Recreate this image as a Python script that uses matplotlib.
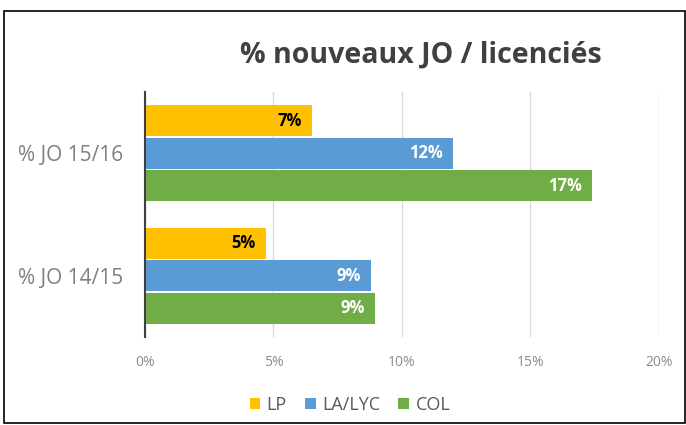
import numpy as np
import matplotlib.pyplot as plt
from matplotlib.patches import Rectangle

# data
categories = ["% JO 14/15", "% JO 15/16"]
series = ["LP", "LA/LYC", "COL"]
lp = [4.7, 6.5]
la_lyc = [8.8, 12.0]
col = [8.95, 17.4]
ticks = [0, 5, 10, 15, 20]

colors = {"LP": "#FFC000", "LA/LYC": "#5B9BD5", "COL": "#70AD47"}
label_colors = {"LP": "black", "LA/LYC": "white", "COL": "white"}
plt.rcParams["font.family"] = ["Open Sans", "DejaVu Sans"]

fig = plt.figure(figsize=(6.86, 4.25), dpi=100)
ax = fig.add_axes([0.2114, 0.207, 0.749, 0.5765])

y = np.arange(len(categories))
h = 0.265
offsets = {"LP": h, "LA/LYC": 0.0, "COL": -h}
for name, vals in zip(series, [lp, la_lyc, col]):
    bars = ax.barh(y + offsets[name], vals, height=h - 0.01, color=colors[name],
                   label=name, zorder=3)
    for b, v in zip(bars, vals):
        ax.text(b.get_width() - 0.4, b.get_y() + b.get_height() / 2, f"{int(v + 0.5)}%",
                ha="right", va="center", fontsize=12, fontweight="bold",
                color=label_colors[name], zorder=4)

ax.set_xlim(0, 20)
ax.set_ylim(-0.5, 1.5)
ax.set_xticks(ticks)
ax.set_xticklabels([f"{t}%" for t in ticks], fontsize=10, color="#8C8C8C")
ax.set_yticks(y)
ax.set_yticklabels(categories, fontsize=15, color="#7F7F7F")
ax.tick_params(axis="y", length=0, pad=16)
ax.tick_params(axis="x", length=0, pad=13)
ax.xaxis.grid(True, color="#D9D9D9", lw=1, zorder=0)
for s in ["top", "right", "bottom"]:
    ax.spines[s].set_visible(False)
ax.spines["left"].set_color("#404040")
ax.spines["left"].set_linewidth(1.5)
ax.spines["left"].set_zorder(5)

fig.text(0.614, 0.87, "% nouveaux JO / licenciés", ha="center", va="center",
         fontsize=20.5, fontweight="bold", color="#404040")

handles, labels = ax.get_legend_handles_labels()
fig.legend(handles, labels, loc="center", bbox_to_anchor=(0.51, 0.047), ncol=3,
           frameon=False, fontsize=13, handlelength=0.6, handleheight=0.6,
           columnspacing=1.0, handletextpad=0.35, labelcolor="#595959")

# outer frame
fig.patches.append(Rectangle((0.006, 0.004), 0.992, 0.97, transform=fig.transFigure,
                             fill=False, edgecolor="black", lw=1.2))

fig.savefig("out.png", dpi=100)
